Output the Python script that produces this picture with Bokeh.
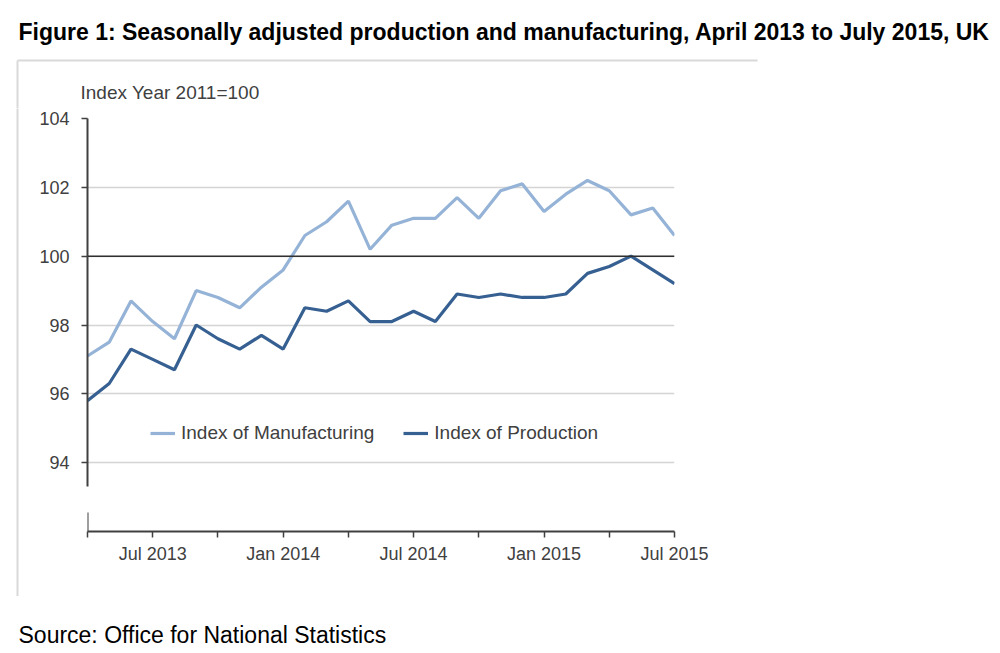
from bokeh.plotting import figure
from bokeh.layouts import column, row
from bokeh.models import (FixedTicker, Span, Legend, LegendItem, ColumnDataSource, Arrow,
                          Range1d)
from bokeh.core.properties import value
from bokeh.embed import file_html
from bokeh.resources import INLINE

# ---- data ----
months = ["Apr 2013", "May 2013", "Jun 2013", "Jul 2013", "Aug 2013", "Sep 2013",
          "Oct 2013", "Nov 2013", "Dec 2013", "Jan 2014", "Feb 2014", "Mar 2014",
          "Apr 2014", "May 2014", "Jun 2014", "Jul 2014", "Aug 2014", "Sep 2014",
          "Oct 2014", "Nov 2014", "Dec 2014", "Jan 2015", "Feb 2015", "Mar 2015",
          "Apr 2015", "May 2015", "Jun 2015", "Jul 2015"]
manufacturing = [97.1, 97.5, 98.7, 98.1, 97.6, 99.0, 98.8, 98.5, 99.1, 99.6, 100.6, 101.0,
                 101.6, 100.2, 100.9, 101.1, 101.1, 101.7, 101.1, 101.9, 102.1, 101.3,
                 101.8, 102.2, 101.9, 101.2, 101.4, 100.6]
production = [95.8, 96.3, 97.3, 97.0, 96.7, 98.0, 97.6, 97.3, 97.7, 97.3, 98.5, 98.4,
              98.7, 98.1, 98.1, 98.4, 98.1, 98.9, 98.8, 98.9, 98.8, 98.8, 98.9, 99.5,
              99.7, 100.0, 99.6, 99.2]
x_tick_months = ["Apr 2013", "Jul 2013", "Oct 2013", "Jan 2014", "Apr 2014", "Jul 2014",
                 "Oct 2014", "Jan 2015", "Apr 2015", "Jul 2015"]
x_tick_labels = ["", "Jul 2013", "", "Jan 2014", "", "Jul 2014", "", "Jan 2015", "", "Jul 2015"]
y_ticks = [94, 96, 98, 100, 102, 104]

title_text = "Figure 1: Seasonally adjusted production and manufacturing, April 2013 to July 2015, UK"
source_text = "Source: Office for National Statistics"
unit_text = "Index Year 2011=100"

FONT = "Liberation Sans"
TXT = "#404040"
PANEL = "#d9d9d9"
C_MAN = "#95B3D7"
C_PROD = "#376092"


def blank(w, h, x0, x1, y0, y1):
    f = figure(width=w, height=h, output_backend="svg", toolbar_location=None,
               x_axis_type=None, y_axis_type=None, min_border=0, frame_align=False,
               x_range=Range1d(x0, x1), y_range=Range1d(y1, y0))
    f.outline_line_color = None
    f.grid.visible = False
    return f


# ---- header strip (page y 0..108): title, panel top edge, unit label ----
top = blank(1000, 108, 0, 1000, 0, 108)
top.text(x=[18], y=[31], text=[title_text], text_font=value(FONT), text_font_style="bold",
         text_font_size="23px", text_color="black", text_baseline="middle", text_align="left")
top.segment(x0=[17], y0=[60], x1=[757], y1=[60], line_color=PANEL, line_width=2)
top.segment(x0=[17], y0=[60], x1=[17], y1=[110], line_color=PANEL, line_width=2)
top.text(x=[80], y=[92], text=[unit_text], text_font=value(FONT), text_font_size="19px",
         text_color=TXT, text_baseline="middle", text_align="left")

# ---- left strip of the panel border (page y 108..596) ----
left = blank(19, 488, 0, 19, 0, 488)
left.segment(x0=[17], y0=[-2], x1=[17], y1=[488], line_color=PANEL, line_width=2)

# ---- main chart ----
x = list(range(len(months)))
src = ColumnDataSource(dict(x=x, man=manufacturing, prod=production))

p = figure(width=981, height=488, output_backend="svg", toolbar_location=None,
           x_range=(0, len(months) - 1), y_range=(92, 104), frame_align=False,
           min_border_left=68, min_border_right=326, min_border_top=10, min_border_bottom=65)
p.outline_line_color = None

p.xgrid.visible = False
p.ygrid.ticker = FixedTicker(ticks=y_ticks)
p.ygrid.grid_line_color = "#d4d4d4"
p.ygrid.grid_line_width = 1.5
p.add_layout(Span(location=100, dimension="width", line_color="#303030", line_width=1.5))

tick_idx = [months.index(m) for m in x_tick_months]
p.xaxis.ticker = FixedTicker(ticks=tick_idx)
p.xaxis.major_label_overrides = {i: l for i, l in zip(tick_idx, x_tick_labels)}
p.xaxis.minor_tick_line_color = None
p.xaxis.major_tick_in = 0
p.xaxis.major_tick_out = 6
p.xaxis.axis_line_color = TXT
p.xaxis.axis_line_width = 2
p.xaxis.major_tick_line_color = TXT
p.xaxis.major_tick_line_width = 1.5
p.xaxis.major_label_text_font = FONT
p.xaxis.major_label_text_font_size = "18px"
p.xaxis.major_label_text_color = TXT
p.xaxis.major_label_standoff = 6

p.yaxis.ticker = FixedTicker(ticks=y_ticks)
p.yaxis.bounds = (93.3, 104)
p.yaxis.minor_tick_line_color = None
p.yaxis.major_tick_in = 0
p.yaxis.major_tick_out = 6
p.yaxis.axis_line_color = TXT
p.yaxis.axis_line_width = 2
p.yaxis.major_tick_line_color = TXT
p.yaxis.major_tick_line_width = 1.5
p.yaxis.major_label_text_font = FONT
p.yaxis.major_label_text_font_size = "18px"
p.yaxis.major_label_text_color = TXT
p.yaxis.major_label_standoff = 12

# broken-axis stub at the bottom of the y axis
p.add_layout(Arrow(end=None, x_start=0, y_start=92, x_end=0, y_end=92.55,
                   line_color=TXT, line_width=2))

r_man = p.line("x", "man", source=src, line_color=C_MAN, line_width=3.2)
r_prod = p.line("x", "prod", source=src, line_color=C_PROD, line_width=3.2)

legend = Legend(items=[LegendItem(label="Index of Manufacturing", renderers=[r_man]),
                       LegendItem(label="Index of Production", renderers=[r_prod])],
                orientation="horizontal", location=(63, 87), padding=0, margin=0,
                spacing=29, glyph_width=25, label_standoff=6,
                border_line_color=None, background_fill_alpha=0,
                label_text_font=FONT, label_text_font_size="19px", label_text_color=TXT)
p.add_layout(legend, "center")

# ---- source strip (page y 596..653) ----
bottom = blank(1000, 57, 0, 1000, 596, 653)
bottom.text(x=[18], y=[634], text=[source_text], text_font=value(FONT), text_font_size="23px",
            text_color="black", text_baseline="middle", text_align="left")

layout = column(top, row(left, p), bottom)
open("out.html", "w").write(file_html(layout, INLINE))
